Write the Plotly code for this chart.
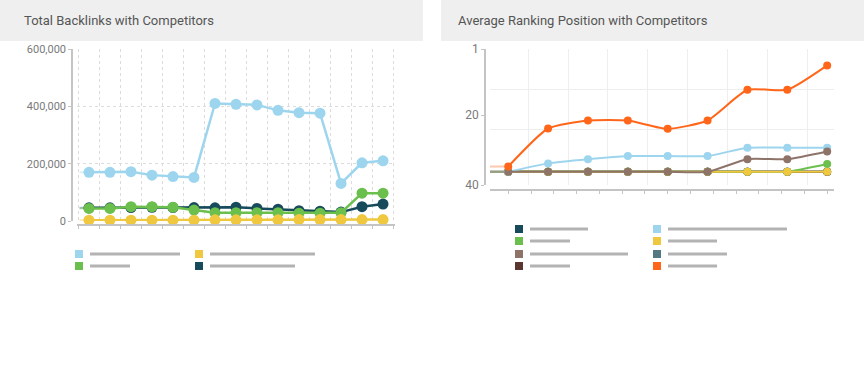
import plotly.graph_objects as go

W, H = 864, 371

# ---------------- Data: Total Backlinks ----------------
periods = [0, 1, 2, 3, 4, 5, 6, 7, 8, 9, 10, 11, 12, 13, 14]
backlinks_site = [170000, 170000, 172000, 160000, 155000, 152000, 410000, 407000,
                  405000, 386000, 378000, 376000, 131000, 203000, 210000]
backlinks_navy = [46000, 46000, 47000, 48000, 47000, 47000, 46000, 48000,
                  44000, 41000, 36000, 34000, 31000, 50000, 59000]
backlinks_green = [44000, 44000, 50000, 50000, 48000, 38000, 29000, 29000,
                   29000, 29000, 27000, 27000, 29000, 97000, 97000]
backlinks_yellow = [3000, 3000, 3000, 3000, 3000, 3000, 4000, 4000,
                    4000, 4000, 5000, 5000, 5000, 5000, 5000]
backlink_ticks = [0, 200000, 400000, 600000]

# ---------------- Data: Average Ranking ----------------
days = [0, 7, 14, 21, 28, 35, 42, 49, 56]
rank_navy = [36.2, 36.2, 36.2, 36.2, 36.2, 36.2, 36.2, 36.2, 36.2]
rank_slate = [36.2, 36.2, 36.2, 36.2, 36.2, 36.2, 36.2, 36.2, 36.2]
rank_darkbrown = [36.2, 36.2, 36.2, 36.2, 36.2, 36.2, 36.2, 36.2, 36.2]
rank_green = [36.2, 36.2, 36.2, 36.2, 36.2, 36.2, 36.2, 36.2, 34.0]
rank_yellow = [36.2, 36.2, 36.2, 36.2, 36.2, 36.2, 36.2, 36.2, 36.2]
rank_lightblue = [36.2, 33.8, 32.6, 31.7, 31.7, 31.7, 29.3, 29.3, 29.3]
rank_brown = [36.2, 36.2, 36.2, 36.2, 36.2, 36.2, 32.6, 32.6, 30.4]
rank_orange = [34.7, 23.8, 21.5, 21.5, 23.9, 21.5, 12.7, 12.7, 5.7]
rank_ticks = [1, 20, 40]

# colours
C_LBLUE = "#9dd5ee"
C_YELLOW = "#efc83f"
C_GREEN = "#6bbf4c"
C_NAVY = "#174a5a"
C_BROWN = "#8e7369"
C_SLATE = "#557983"
C_DBROWN = "#5b3630"
C_ORANGE = "#ff661a"

FONT = "Roboto, 'Open Sans', Arial, sans-serif"
AXIS_C = "#c4c4c4"
TICKFONT = dict(family=FONT, size=11, color="#7a7a7a")


def px(x):
    return x / W


def py(y):
    return 1 - y / H


fig = go.Figure()

# ---------- left chart ----------
L_RANGE = [-0.57, 14.57]
left_series = [
    (backlinks_site, C_LBLUE),
    (backlinks_navy, C_NAVY),
    (backlinks_green, C_GREEN),
    (backlinks_yellow, C_YELLOW),
]
for vals, col in left_series:
    fig.add_trace(go.Scatter(
        x=[L_RANGE[0] + 0.12, periods[0]], y=[vals[0], vals[0]], mode="lines",
        line=dict(color=col, width=2), opacity=0.35, xaxis="x", yaxis="y",
        hoverinfo="skip", showlegend=False, cliponaxis=False))
for vals, col in left_series:
    fig.add_trace(go.Scatter(
        x=periods, y=vals, mode="lines+markers",
        line=dict(color=col, width=2.5),
        marker=dict(color=col, size=11),
        xaxis="x", yaxis="y", showlegend=False, cliponaxis=False))

# ---------- right chart ----------
R_RANGE = [-3.2, 57.2]
right_series = [
    (rank_navy, C_NAVY),
    (rank_slate, C_SLATE),
    (rank_darkbrown, C_DBROWN),
    (rank_green, C_GREEN),
    (rank_yellow, C_YELLOW),
    (rank_lightblue, C_LBLUE),
    (rank_brown, C_BROWN),
    (rank_orange, C_ORANGE),
]
for vals, col in right_series:
    fig.add_trace(go.Scatter(
        x=[R_RANGE[0] - 0.3, days[0]], y=[vals[0], vals[0]], mode="lines",
        line=dict(color=col, width=2), opacity=0.35, xaxis="x2", yaxis="y2",
        hoverinfo="skip", showlegend=False, cliponaxis=False))
for vals, col in right_series:
    fig.add_trace(go.Scatter(
        x=days, y=vals, mode="lines+markers",
        line=dict(color=col, width=2, shape="spline", smoothing=0.55),
        marker=dict(color=col, size=8),
        xaxis="x2", yaxis="y2", showlegend=False, cliponaxis=False))

# invisible trace to carry the grid-only overlay axes of the right chart
fig.add_trace(go.Scatter(x=[days[0]], y=[rank_ticks[0]], mode="markers",
                         marker=dict(opacity=0), xaxis="x3", yaxis="y3",
                         hoverinfo="skip", showlegend=False))

L_DOM_X = [px(77), px(395)]
L_DOM_Y = [py(221), py(49)]
R_DOM_X = [px(490), px(834)]
R_DOM_Y = [py(185), py(49)]

fig.update_layout(
    width=W, height=H,
    margin=dict(l=0, r=0, t=0, b=0, pad=0, autoexpand=False),
    paper_bgcolor="white", plot_bgcolor="white",
    showlegend=False,
    xaxis=dict(domain=L_DOM_X, range=L_RANGE, anchor="free", position=py(225),
               tick0=-0.5, dtick=1, ticks="outside", ticklen=3, tickcolor=AXIS_C,
               showticklabels=False, showline=True, linecolor=AXIS_C, linewidth=1.5,
               showgrid=True, gridcolor="#dcdcdc", griddash="dot", gridwidth=1,
               zeroline=False, fixedrange=True, automargin=False),
    yaxis=dict(domain=L_DOM_Y, range=[0, 600000], anchor="free", position=px(72),
               tickvals=backlink_ticks, tickformat=",d", ticks="outside", ticklen=3,
               tickcolor=AXIS_C, tickfont=TICKFONT, showline=True, linecolor=AXIS_C,
               linewidth=1.5, showgrid=True, gridcolor="#dcdcdc", griddash="dot",
               zeroline=False, fixedrange=True, automargin=False),
    xaxis2=dict(domain=R_DOM_X, range=R_RANGE, anchor="free", position=py(190),
                tick0=0, dtick=4, ticks="outside", ticklen=3, tickcolor=AXIS_C,
                showticklabels=False, showline=True, linecolor=AXIS_C, linewidth=1.5,
                showgrid=False, zeroline=False, fixedrange=True, automargin=False),
    yaxis2=dict(domain=R_DOM_Y, range=[40, 1], anchor="free", position=px(485),
                tickvals=rank_ticks, ticks="outside", ticklen=3, tickcolor=AXIS_C,
                tickfont=dict(family=FONT, size=12, color="#7a7a7a"),
                showline=True, linecolor=AXIS_C, linewidth=1.5,
                showgrid=False, zeroline=False, fixedrange=True, automargin=False),
    xaxis3=dict(overlaying="x2", range=R_RANGE, anchor="y3", tick0=3.5, dtick=7,
                showticklabels=False, ticks="", showline=False, showgrid=True,
                gridcolor="#eeeeee", gridwidth=1, zeroline=False, fixedrange=True,
                automargin=False),
    yaxis3=dict(overlaying="y2", range=[40, 1], anchor="x3",
                tickvals=[1, 12.7, 24.0], showticklabels=False, ticks="",
                showline=False, showgrid=True, gridcolor="#eeeeee", gridwidth=1,
                zeroline=False, fixedrange=True, automargin=False),
)

shapes = []
annotations = []

# title bars
shapes.append(dict(type="rect", xref="paper", yref="paper", x0=0, x1=px(423),
                   y0=py(41), y1=1, fillcolor="#efefef", line=dict(width=0), layer="below"))
shapes.append(dict(type="rect", xref="paper", yref="paper", x0=px(441), x1=1,
                   y0=py(41), y1=1, fillcolor="#efefef", line=dict(width=0), layer="below"))
annotations.append(dict(text="Total Backlinks with Competitors", xref="paper", yref="paper",
                        x=px(22), y=py(20), xanchor="left", yanchor="middle", showarrow=False,
                        font=dict(family=FONT, size=13, color="#555555")))
annotations.append(dict(text="Average Ranking Position with Competitors", xref="paper",
                        yref="paper", x=px(456), y=py(20), xanchor="left", yanchor="middle",
                        showarrow=False, font=dict(family=FONT, size=13, color="#555555")))


def legend_item(cx, cy, color, bar_len):
    shapes.append(dict(type="rect", xref="paper", yref="paper",
                       x0=px(cx - 4), x1=px(cx + 4), y0=py(cy + 4), y1=py(cy - 4),
                       fillcolor=color, line=dict(width=0)))
    shapes.append(dict(type="line", xref="paper", yref="paper",
                       x0=px(cx + 11), x1=px(cx + 11 + bar_len), y0=py(cy), y1=py(cy),
                       line=dict(color="#b3b3b3", width=3)))


# left legend (labels are greyed-out bars in the reference)
legend_item(79, 254, C_LBLUE, 90)
legend_item(199, 254, C_YELLOW, 105)
legend_item(79, 266, C_GREEN, 40)
legend_item(199, 266, C_NAVY, 85)

# right legend
legend_item(519, 229, C_NAVY, 58)
legend_item(657, 229, C_LBLUE, 119)
legend_item(519, 241, C_GREEN, 40)
legend_item(657, 241, C_YELLOW, 49)
legend_item(519, 254, C_BROWN, 98)
legend_item(657, 254, C_SLATE, 59)
legend_item(519, 266, C_DBROWN, 40)
legend_item(657, 266, C_ORANGE, 49)

fig.update_layout(shapes=shapes, annotations=annotations)

fig.write_html(
    "out.html",
    config={"displayModeBar": False, "responsive": False},
    post_script="document.body.style.margin='0';document.body.style.overflow='hidden';",
)
